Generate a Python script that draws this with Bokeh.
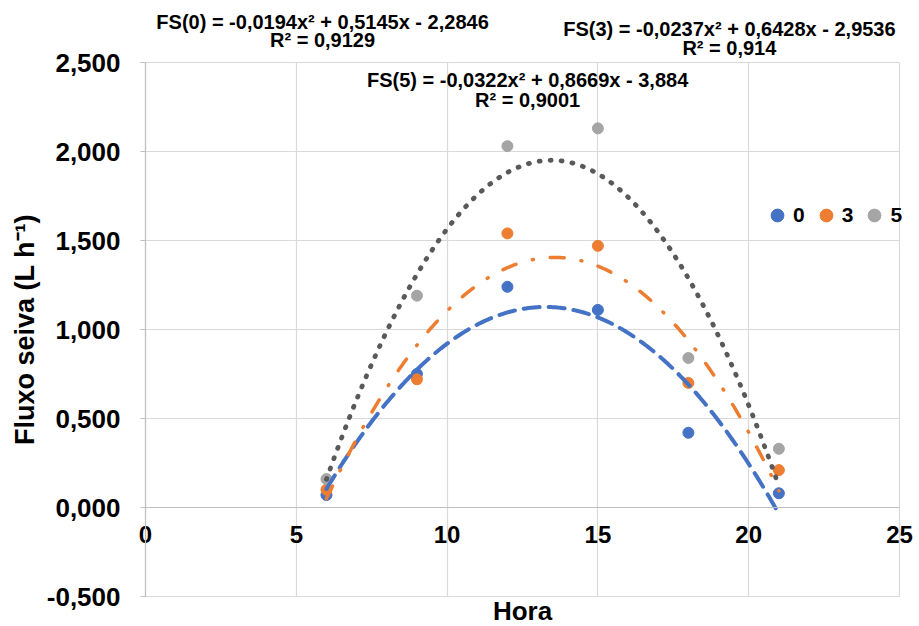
import numpy as np
from bokeh.plotting import figure
from bokeh.models import (Range1d, Label, Legend, LegendItem, CustomJSTickFormatter,
                          FixedTicker, Grid)
from bokeh.embed import file_html
from bokeh.resources import INLINE

# ---- data ----
hora = [6, 9, 12, 15, 18, 21]
fs0 = [0.07, 0.75, 1.24, 1.11, 0.42, 0.08]
fs3 = [0.10, 0.72, 1.54, 1.47, 0.70, 0.21]
fs5 = [0.16, 1.19, 2.03, 2.13, 0.84, 0.33]

series_names = ["0", "3", "5"]
coef0 = [-0.0194, 0.5145, -2.2846]
coef3 = [-0.0237, 0.6428, -2.9536]
coef5 = [-0.0322, 0.8669, -3.884]
eq_texts = ["FS(0) = -0,0194x² + 0,5145x - 2,2846",
            "FS(3) = -0,0237x² + 0,6428x - 2,9536",
            "FS(5) = -0,0322x² + 0,8669x - 3,884"]
r2_texts = ["R² = 0,9129", "R² = 0,914", "R² = 0,9001"]

x_ticks = [0, 5, 10, 15, 20, 25]
y_ticks = [-0.5, 0.0, 0.5, 1.0, 1.5, 2.0, 2.5]
x_lim = (0, 25)
y_lim = (-0.5, 2.5)

FONT = "Liberation Sans"
point_colors = ["#4472C4", "#ED7D31", "#A5A5A5"]
trend_colors = ["#4472C4", "#ED7D31", "#595959"]

# full-canvas frame; plot area (0..25, -0.5..2.5) sits at px x 145..899, y 62..596
W, H = 919, 626
PX_X = 754 / 25.0
PX_Y = 534 / 3.0
x_range = Range1d(-145 / PX_X, (W - 145) / PX_X)
y_range = Range1d(-0.5 - (H - 596) / PX_Y, 2.5 + 62 / PX_Y)

p = figure(frame_width=W, frame_height=H, min_border=0,
           x_range=x_range, y_range=y_range,
           output_backend="svg", toolbar_location=None)
p.outline_line_color = None
p.background_fill_color = "white"
p.border_fill_color = "white"

# axes (crossing at 0)
p.xaxis.ticker = FixedTicker(ticks=x_ticks)
p.yaxis.ticker = FixedTicker(ticks=y_ticks)
p.yaxis.formatter = CustomJSTickFormatter(code="return tick.toFixed(3).replace('.', ',');")
p.xaxis.fixed_location = 0
p.yaxis.fixed_location = 0
p.xaxis.bounds = x_lim
p.yaxis.bounds = y_lim
for ax in (p.xaxis, p.yaxis):
    ax.axis_line_color = "#bfbfbf"
    ax.axis_line_width = 1.2
    ax.major_tick_line_color = "#bfbfbf"
    ax.minor_tick_line_color = None
    ax.major_label_text_font = FONT
    ax.major_label_text_font_style = "bold"
    ax.major_label_text_color = "black"
p.xaxis.major_label_text_font_size = "24px"
p.yaxis.major_label_text_font_size = "26px"
p.xaxis.major_tick_out = 0
p.xaxis.major_tick_in = 0
p.xaxis.major_label_standoff = 18
p.yaxis.major_tick_out = 5
p.yaxis.major_tick_in = 0
p.yaxis.major_label_standoff = 20
p.yaxis.axis_label = "Fluxo seiva (L h⁻¹)"
p.yaxis.axis_label_text_font = FONT
p.yaxis.axis_label_text_font_style = "bold"
p.yaxis.axis_label_text_font_size = "27px"
p.yaxis.axis_label_text_color = "black"
p.yaxis.axis_label_standoff = 4

# grid limited to the plot area
p.xgrid.grid_line_color = "#d9d9d9"
p.ygrid.grid_line_color = "#d9d9d9"
p.xgrid.grid_line_width = 1.2
p.ygrid.grid_line_width = 1.2
if "cross_bounds" in Grid.properties():
    p.xgrid.cross_bounds = y_lim
    p.ygrid.cross_bounds = x_lim
else:
    p.xgrid.visible = False
    p.ygrid.visible = False
    p.segment(x0=x_ticks, x1=x_ticks, y0=[y_lim[0]] * len(x_ticks), y1=[y_lim[1]] * len(x_ticks),
              line_color="#d9d9d9", line_width=1.2, level="underlay")
    p.segment(x0=[x_lim[0]] * len(y_ticks), x1=[x_lim[1]] * len(y_ticks), y0=y_ticks, y1=y_ticks,
              line_color="#d9d9d9", line_width=1.2, level="underlay")

# scatter points
ys = [fs0, fs3, fs5]
renderers = []
for yv, c in zip(ys, point_colors):
    r = p.scatter(hora, yv, size=11, color=c, line_color=c)
    renderers.append(r)

# trendlines (from the displayed equations)
xt = np.linspace(min(hora), max(hora), 301)
coefs = [coef0, coef3, coef5]
dashes = ["16 9", "14 17 1 17", "1 10"]
widths = [4.0, 3.5, 4.8]
for cf, c, d, w in zip(coefs, trend_colors, dashes, widths):
    yt = cf[0] * xt ** 2 + cf[1] * xt + cf[2]
    p.line(xt, yt, line_color=c, line_width=w, line_dash=d, line_cap="round")

# equation labels (data coordinates)
eq_pos = [(5.87, 2.7303, 2.6236), (19.36, 2.6854, 2.5787), (12.67, 2.3989, 2.2921)]
for (xc, y1, y2), et, rt in zip(eq_pos, eq_texts, r2_texts):
    for yy, tt in ((y1, et), (y2, rt)):
        p.add_layout(Label(x=xc, y=yy, text=tt, text_align="center",
                           text_baseline="middle", text_font=FONT,
                           text_font_style="bold", text_font_size="20px",
                           text_color="black"))

# x axis title
p.add_layout(Label(x=12.5, y=-0.5787, text="Hora", text_align="center",
                   text_baseline="middle", text_font=FONT, text_font_style="bold",
                   text_font_size="26px", text_color="black"))

legend = Legend(items=[LegendItem(label=n, renderers=[r]) for n, r in zip(series_names, renderers)],
                orientation="horizontal", location=(761, 395),
                glyph_width=32, glyph_height=32, label_standoff=0, label_width=11,
                spacing=5, padding=0, margin=0,
                border_line_color=None, background_fill_alpha=0,
                label_text_font=FONT, label_text_font_style="bold",
                label_text_font_size="21px", label_text_color="black")
p.add_layout(legend)

open("out.html", "w").write(file_html(p, INLINE))
